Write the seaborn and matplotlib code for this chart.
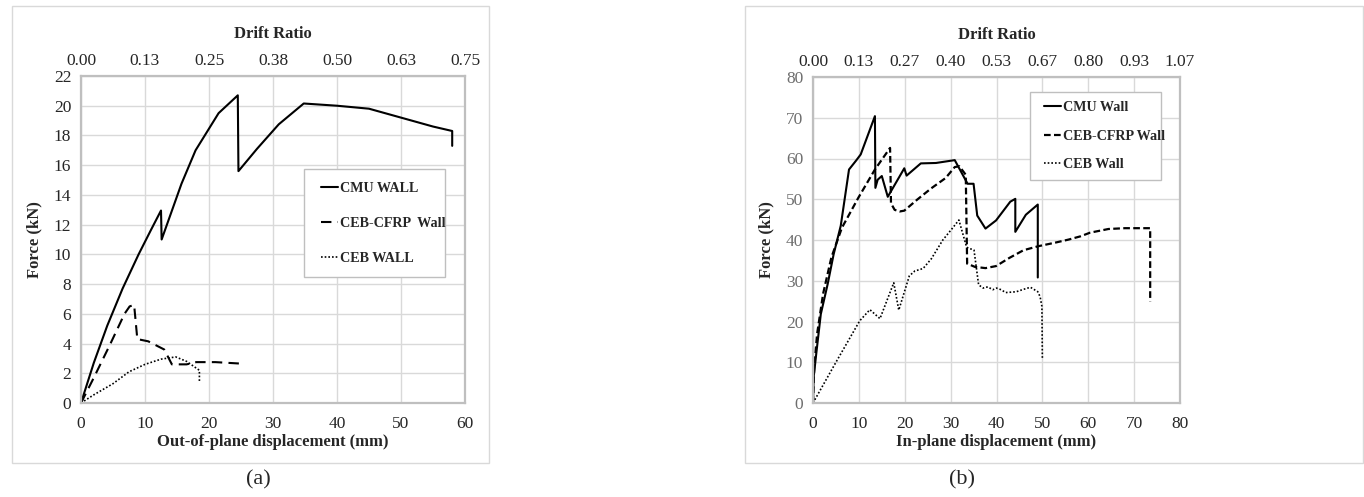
import matplotlib
matplotlib.use("Agg")
import matplotlib.pyplot as plt
import numpy as np
import pandas as pd
import seaborn as sns
from matplotlib.patches import Rectangle

sns.set_theme(style="whitegrid")
plt.rcParams["font.family"] = ["Liberation Serif", "DejaVu Serif"]

# ── data: panel (a) out-of-plane ──────────────────────────────────────────────
a_cmu_x = [0, 2, 4.1, 6.5, 9.0, 11.0, 12.5, 12.6, 15.7, 17.9, 21.5, 24.5, 24.6,
           27.5, 30.9, 34.8, 40.0, 45.0, 50.0, 55.0, 58.0, 58.0]
a_cmu_y = [0, 2.7, 5.2, 7.7, 10.0, 11.7, 12.95, 11.0, 14.75, 17.0, 19.5, 20.7, 15.6,
           17.1, 18.75, 20.15, 20.0, 19.8, 19.2, 18.6, 18.3, 17.3]

a_cfrp_x = [0, 2.0, 4.5, 6.8, 7.6, 8.3, 8.8, 10.5, 13.0, 14.2, 16.5, 18.0, 21.0, 25.0]
a_cfrp_y = [0, 1.7, 3.9, 6.0, 6.5, 6.6, 4.3, 4.15, 3.6, 2.6, 2.6, 2.75, 2.75, 2.65]

a_ceb_x = [0, 2.0, 5.0, 7.5, 10.0, 12.5, 14.8, 16.5, 18.5, 18.5]
a_ceb_y = [0, 0.55, 1.3, 2.1, 2.6, 2.95, 3.1, 2.8, 2.2, 1.45]

# ── data: panel (b) in-plane ──────────────────────────────────────────────────
b_cmu_x = [0, 0.15, 0.7, 1.7, 3.2, 4.5, 6.05, 7.85, 9.4, 10.4, 13.5, 13.6, 14.1, 15.0,
           16.3, 19.9, 20.4, 23.5, 26.8, 30.9, 33.7, 35.0, 35.8, 37.6, 39.9, 43.0,
           44.1, 44.1, 46.4, 49.0, 49.0]
b_cmu_y = [0, 6.4, 12.0, 21.8, 29.2, 36.5, 43.5, 57.3, 59.5, 61.0, 70.4, 52.8, 54.8, 55.7,
           50.6, 57.6, 55.8, 58.8, 58.9, 59.6, 53.8, 53.8, 46.0, 42.8, 44.8, 49.4,
           50.1, 42.0, 46.2, 48.7, 30.8]

b_cfrp_x = [0, 0.26, 0.9, 2.2, 4.0, 6.3, 9.9, 13.5, 16.8, 17.0, 17.8, 18.9, 19.9, 22.7,
            25.8, 28.9, 30.9, 31.9, 33.3, 33.6, 35.3, 37.6, 39.9, 42.8, 45.9, 49.2,
            52.6, 55.7, 58.3, 60.4, 64.4, 68.0, 73.5, 73.5]
b_cfrp_y = [0, 8.8, 17.0, 26.8, 35.7, 43.0, 50.4, 57.3, 62.6, 49.0, 47.4, 47.0, 47.2, 49.9,
            52.7, 55.2, 57.9, 58.1, 56.0, 34.2, 33.4, 33.1, 33.6, 35.6, 37.5, 38.5,
            39.3, 40.1, 40.9, 41.8, 42.7, 42.9, 42.9, 24.9]

b_ceb_x = [0, 5.0, 10.2, 12.4, 14.6, 17.6, 18.7, 21.0, 22.2, 24.0, 25.8, 28.3, 30.4,
           31.8, 33.5, 35.1, 36.1, 37.1, 38.1, 39.2, 40.0, 41.0, 42.0, 44.3, 45.9,
           47.4, 49.0, 49.5, 49.9, 50.0]
b_ceb_y = [0, 10.0, 20.2, 22.9, 20.7, 29.5, 22.8, 31.2, 32.4, 33.0, 35.4, 40.0, 42.9,
           44.9, 38.2, 37.5, 29.0, 28.2, 28.5, 27.8, 28.2, 27.8, 27.1, 27.3, 27.9,
           28.4, 27.3, 26.1, 23.7, 10.6]

# ── ticks ─────────────────────────────────────────────────────────────────────
a_xticks = [0, 10, 20, 30, 40, 50, 60]
a_yticks = list(range(0, 23, 2))
a_drift = ["0.00", "0.13", "0.25", "0.38", "0.50", "0.63", "0.75"]

b_xticks = [0, 10, 20, 30, 40, 50, 60, 70, 80]
b_yticks = list(range(0, 81, 10))
b_drift = ["0.00", "0.13", "0.27", "0.40", "0.53", "0.67", "0.80", "0.93", "1.07"]

a_labels = ["CMU WALL", "CEB-CFRP  Wall", "CEB WALL"]
b_labels = ["CMU Wall", "CEB-CFRP Wall", "CEB Wall"]

GRID = "#d9d9d9"
FRAME = "#bfbfbf"


def _frame(ax):
    ax.grid(True, color=GRID, lw=1.0)
    for s in ax.spines.values():
        s.set_visible(True)
        s.set_color(FRAME)
        s.set_linewidth(1.6)
    ax.tick_params(axis="x", length=0, pad=9)
    ax.tick_params(axis="y", length=0, pad=7)


def _panel(ax, series, labels, styles, xticks, yticks, drift, xlabel,
           ycolor, box, leg_anchor, lspace):
    for (x, y), lab, st in zip(series, labels, styles):
        df = pd.DataFrame({"x": x, "y": y})
        sns.lineplot(data=df, x="x", y="y", ax=ax, sort=False, estimator=None,
                     color="black", label=lab, **st)
    ax.set_xlim(xticks[0], xticks[-1])
    ax.set_ylim(yticks[0], yticks[-1])
    ax.set_xticks(xticks)
    ax.set_yticks(yticks)
    ax.tick_params(axis="x", labelsize=12.5, colors="#262626")
    ax.tick_params(axis="y", labelsize=12.5, colors=ycolor)
    _frame(ax)
    ax.set_xlabel(xlabel, fontsize=12, fontweight="bold", labelpad=2)
    ax.set_ylabel("Force (kN)", fontsize=12, fontweight="bold", labelpad=8)

    top = ax.twiny()
    top.set_xlim(ax.get_xlim())
    top.set_xticks(xticks, labels=drift)
    top.tick_params(length=0, labelsize=12.5, colors="#262626", pad=5)
    top.grid(False)
    for s in top.spines.values():
        s.set_visible(False)
    top.set_xlabel("Drift Ratio", fontsize=12, fontweight="bold", labelpad=11)

    # legend frame drawn separately so the entries can sit inset like Excel
    ax.add_patch(Rectangle(box[:2], box[2], box[3], transform=ax.transAxes,
                           facecolor="white", edgecolor=FRAME, lw=1.0, zorder=4))
    leg = ax.legend(loc="center left", bbox_to_anchor=leg_anchor, frameon=False,
                    handlelength=1.15, handletextpad=0.15, labelspacing=lspace,
                    borderpad=0, borderaxespad=0,
                    prop={"weight": "bold", "size": 10.2})
    leg.set_zorder(5)


fig = plt.figure(figsize=(13.64, 4.97), dpi=100)
W, H = 1364, 497

# chart-area outlines
fig.patches.append(Rectangle((12 / W, 1 - 463 / H), (489 - 12) / W, (463 - 6) / H,
                             transform=fig.transFigure, fill=False, ec="#d9d9d9", lw=1.0))
fig.patches.append(Rectangle((745 / W, 1 - 463 / H), (1363 - 745) / W, (463 - 6) / H,
                             transform=fig.transFigure, fill=False, ec="#d9d9d9", lw=1.0))

ax_a = fig.add_axes([81 / W, 1 - 403 / H, 384 / W, 327 / H])
ax_b = fig.add_axes([813 / W, 1 - 403 / H, 367 / W, 326 / H])

_panel(ax_a,
       [(a_cmu_x, a_cmu_y), (a_cfrp_x, a_cfrp_y), (a_ceb_x, a_ceb_y)],
       a_labels,
       [dict(lw=1.5), dict(lw=1.5, linestyle=(0, (5, 3))), dict(lw=1.2, linestyle=(0, (1, 1.2)))],
       a_xticks, a_yticks, a_drift, "Out-of-plane displacement (mm)", "#262626",
       (0.582, 0.384, 0.367, 0.332), (0.626, 0.55), 1.55)

_panel(ax_b,
       [(b_cmu_x, b_cmu_y), (b_cfrp_x, b_cfrp_y), (b_ceb_x, b_ceb_y)],
       b_labels,
       [dict(lw=1.5), dict(lw=1.6, linestyle=(0, (3, 1.5))), dict(lw=1.2, linestyle=(0, (1, 1.2)))],
       b_xticks, b_yticks, b_drift, "In-plane displacement (mm)", "#6e6e6e",
       (0.591, 0.683, 0.356, 0.271), (0.63, 0.819), 1.1)

fig.text(258 / W, 1 - 480 / H, "(a)", ha="center", va="center", fontsize=16)
fig.text(962 / W, 1 - 480 / H, "(b)", ha="center", va="center", fontsize=16)

fig.savefig("out.png", dpi=100)
